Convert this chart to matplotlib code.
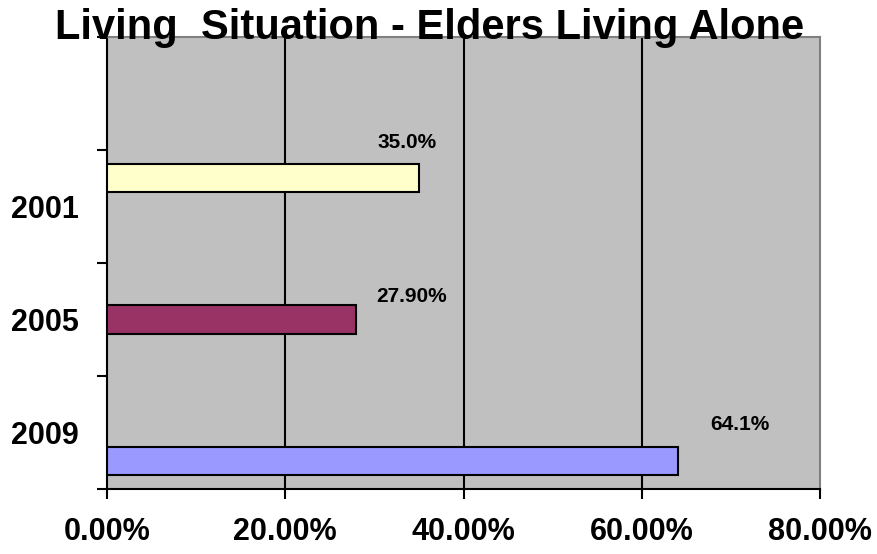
import matplotlib
matplotlib.use('Agg')
import matplotlib.pyplot as plt

title = "Living  Situation - Elders Living Alone"
categories = ["", "2001", "2005", "2009"]      # top to bottom; top row is empty
years = ["2001", "2005", "2009"]
values = [35.0, 27.9, 64.1]
value_labels = ["35.0%", "27.90%", "64.1%"]
colors = ["#FFFFCC", "#993366", "#9999FF"]
x_ticks = [0, 20, 40, 60, 80]

plt.rcParams['font.family'] = ['Liberation Sans', 'DejaVu Sans']
plt.rcParams['font.weight'] = 'bold'

fig = plt.figure(figsize=(8.77, 5.54), dpi=100)
ax = fig.add_axes([107 / 877, 1 - 489 / 554, 713 / 877, 452 / 554])
ax.set_facecolor('#C0C0C0')

n_cat = len(categories)
n_ser = len(years)
bar_h = 0.25
# label offsets (pixels) relative to the bar end / top
label_dx = [-12, 56, 62]
label_dy = [22, 9, 22]

for i, (yr, v, lab, c) in enumerate(zip(years, values, value_labels, colors)):
    cat_idx = n_cat - 1 - categories.index(yr)   # bottom-up index
    ser_off = (n_ser - 1 - i - 1) * bar_h        # 2001 high, 2009 low in the cluster
    y = cat_idx + 0.5 + ser_off
    ax.barh(y, v, height=bar_h, color=c, edgecolor='black', linewidth=1.5, zorder=3)
    ax.annotate(lab, xy=(v, y + bar_h / 2), xytext=(label_dx[i] * 0.72, label_dy[i] * 0.72),
                textcoords='offset points', ha='center', va='center',
                fontsize=15, fontweight='bold', zorder=4)

ax.set_xlim(0, 80)
ax.set_ylim(0, n_cat)
ax.set_xticks(x_ticks)
ax.set_xticklabels([f"{t:.2f}%" for t in x_ticks], fontsize=22, fontweight='bold')
ax.tick_params(axis='x', direction='out', length=7, width=1.5, pad=13)

ax.set_yticks(range(n_cat + 1))
ax.set_yticklabels([])
ax.tick_params(axis='y', which='major', direction='out', length=7, width=1.5)
ax.set_yticks([k + 0.5 for k in range(n_cat)], minor=True)
ax.set_yticklabels(categories[::-1], minor=True, fontsize=22, fontweight='bold')
ax.tick_params(axis='y', which='minor', length=0, pad=20)

for g in x_ticks[1:-1]:
    ax.axvline(g, color='black', linewidth=1.5, zorder=1)

ax.spines['left'].set_color('black')
ax.spines['left'].set_linewidth(1.5)
ax.spines['bottom'].set_color('black')
ax.spines['bottom'].set_linewidth(1.5)
ax.spines['top'].set_color('#808080')
ax.spines['top'].set_linewidth(1.5)
ax.spines['right'].set_color('#808080')
ax.spines['right'].set_linewidth(1.5)

fig.text(430 / 877, 1 - 28 / 554, title, ha='center', va='center',
         fontsize=30, fontweight='bold')

fig.savefig('out.png', dpi=100)
